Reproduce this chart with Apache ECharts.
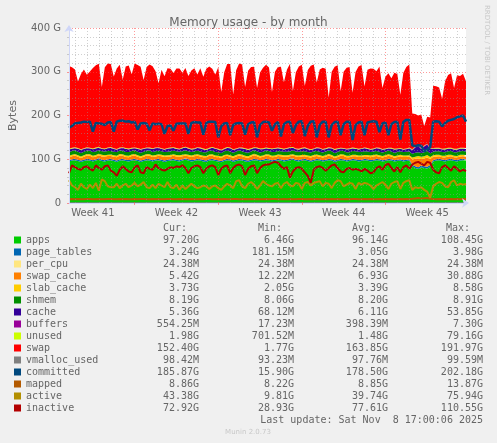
<!DOCTYPE html>
<html>
<head>
<meta charset="utf-8">
<script src="https://cdn.jsdelivr.net/npm/echarts/dist/echarts.min.js"></script>
<style>
html,body{margin:0;padding:0;background:#F0F0F0;}
#c{width:497px;height:443px;}
</style>
</head>
<body>
<div id="c"></div>
<script>
// ---- Data (GiB), one sample every 6 hours, 134 samples ----
const weekLabels = ['Week 41','Week 42','Week 43','Week 44','Week 45'];
const weekLabelAt = [8,36,64,92,120];
const weekStartAt = [22,50,78,106];

const apps = [
95,97,98,96,94,96,98,97,95,97,
99,96,95,97,98,96,94,97,98,96,
95,97,98,96,94,96,98,97,95,97,
98,96,94,96,97,98,96,95,97,99,
97,95,96,98,97,95,94,97,98,96,
95,93,96,98,97,94,96,98,97,95,
94,96,98,97,95,96,98,97,95,96,
98,97,95,96,98,99,96,95,97,98,
96,94,96,98,97,95,96,98,97,94,
96,98,97,95,96,98,97,95,96,98,
97,95,96,98,97,95,96,98,97,95,
96,97,95,96,97,84,80,78,82,80,
79,83,95,97,98,96,95,97,98,96,
95,97,98,97.2];

const page_tables = [
3.0,3.1,3.0,2.9,3.0,3.1,3.1,3.0,2.9,3.0,
3.1,3.0,3.0,3.1,3.0,2.9,3.0,3.1,3.0,3.0,
3.1,3.0,2.9,3.0,3.1,3.0,3.0,3.1,3.0,2.9,
3.0,3.1,3.0,3.0,3.1,3.0,2.9,3.0,3.1,3.0,
3.0,3.1,3.0,2.9,3.0,3.1,3.0,3.0,3.1,3.0,
2.9,3.0,3.1,3.0,3.0,3.1,3.0,2.9,3.0,3.1,
3.0,3.0,3.1,3.0,2.9,3.0,3.1,3.0,3.0,3.1,
3.0,2.9,3.0,3.1,3.0,3.0,3.1,3.0,2.9,3.0,
3.1,3.0,3.0,3.1,3.0,2.9,3.0,3.1,3.0,3.0,
3.1,3.0,2.9,3.0,3.1,3.0,3.0,3.1,3.0,2.9,
3.0,3.1,3.0,3.0,3.1,3.0,2.9,3.0,3.1,3.0,
3.0,3.1,3.0,3.1,3.2,3.6,3.9,3.8,3.7,3.9,
3.8,3.6,3.1,3.0,3.1,3.2,3.1,3.2,3.2,3.1,
3.2,3.3,3.2,3.24];

const per_cpu = [
0.024,0.024,0.024,0.024,0.024,0.024,0.024,0.024,0.024,0.024,
0.024,0.024,0.024,0.024,0.024,0.024,0.024,0.024,0.024,0.024,
0.024,0.024,0.024,0.024,0.024,0.024,0.024,0.024,0.024,0.024,
0.024,0.024,0.024,0.024,0.024,0.024,0.024,0.024,0.024,0.024,
0.024,0.024,0.024,0.024,0.024,0.024,0.024,0.024,0.024,0.024,
0.024,0.024,0.024,0.024,0.024,0.024,0.024,0.024,0.024,0.024,
0.024,0.024,0.024,0.024,0.024,0.024,0.024,0.024,0.024,0.024,
0.024,0.024,0.024,0.024,0.024,0.024,0.024,0.024,0.024,0.024,
0.024,0.024,0.024,0.024,0.024,0.024,0.024,0.024,0.024,0.024,
0.024,0.024,0.024,0.024,0.024,0.024,0.024,0.024,0.024,0.024,
0.024,0.024,0.024,0.024,0.024,0.024,0.024,0.024,0.024,0.024,
0.024,0.024,0.024,0.024,0.024,0.024,0.024,0.024,0.024,0.024,
0.024,0.024,0.024,0.024,0.024,0.024,0.024,0.024,0.024,0.024,
0.024,0.024,0.024,0.024];

const swap_cache = [
6.5,7.0,7.5,6.8,6.0,6.5,7.2,7.8,6.9,6.2,
6.8,7.5,8.0,7.1,6.4,6.9,7.6,8.2,7.0,6.3,
6.7,7.3,7.9,6.8,6.1,6.6,7.4,8.0,7.2,6.5,
6.9,7.6,8.1,7.0,6.3,6.8,7.5,7.9,6.9,6.2,
6.6,7.2,7.8,6.9,6.0,6.5,7.3,7.7,6.8,6.1,
6.5,7.1,7.6,6.7,5.9,6.4,7.2,7.8,6.9,6.2,
6.6,7.3,7.9,6.8,6.0,6.5,7.1,7.6,6.7,6.0,
6.4,7.0,7.5,6.6,5.8,6.3,7.0,7.4,6.5,5.9,
6.3,6.9,7.4,6.5,5.7,6.2,6.9,7.3,6.4,5.8,
6.2,6.8,7.3,6.4,5.6,6.1,6.8,7.2,6.3,5.7,
6.1,6.7,7.2,6.3,5.5,6.0,6.7,7.1,6.2,5.6,
6.0,6.6,7.0,6.2,5.8,12,17,20,15,18,
21,14,7.5,6.5,5.8,5.5,6.0,6.3,5.7,5.4,
5.8,6.0,5.6,5.42];

const slab_cache = [
3.3,3.4,3.5,3.3,3.2,3.4,3.5,3.4,3.3,3.3,
3.4,3.5,3.4,3.3,3.2,3.4,3.5,3.4,3.3,3.3,
3.4,3.5,3.3,3.2,3.4,3.5,3.4,3.3,3.3,3.4,
3.5,3.4,3.3,3.2,3.4,3.5,3.4,3.3,3.3,3.4,
3.5,3.3,3.2,3.4,3.5,3.4,3.3,3.3,3.4,3.5,
3.4,3.3,3.2,3.4,3.5,3.4,3.3,3.3,3.4,3.5,
3.3,3.2,3.4,3.5,3.4,3.3,3.3,3.4,3.5,3.4,
3.3,3.2,3.4,3.5,3.4,3.3,3.3,3.4,3.5,3.3,
3.2,3.4,3.5,3.4,3.3,3.3,3.4,3.5,3.4,3.3,
3.2,3.4,3.5,3.4,3.3,3.3,3.4,3.5,3.3,3.2,
3.4,3.5,3.4,3.3,3.3,3.4,3.5,3.4,3.3,3.2,
3.4,3.5,3.4,3.3,3.4,4.5,5.0,5.5,4.8,5.2,
6.0,4.5,3.6,3.5,3.4,3.5,3.6,3.7,3.6,3.5,
3.6,3.7,3.7,3.73];

const shmem = [
8.2,8.2,8.3,8.2,8.1,8.2,8.2,8.3,8.2,8.1,
8.2,8.3,8.2,8.2,8.1,8.2,8.3,8.2,8.2,8.1,
8.2,8.2,8.3,8.2,8.1,8.2,8.2,8.3,8.2,8.2,
8.1,8.2,8.3,8.2,8.2,8.1,8.2,8.2,8.3,8.2,
8.1,8.2,8.2,8.3,8.2,8.2,8.1,8.2,8.3,8.2,
8.2,8.1,8.2,8.2,8.3,8.2,8.1,8.2,8.2,8.3,
8.2,8.2,8.1,8.2,8.3,8.2,8.2,8.1,8.2,8.2,
8.3,8.2,8.1,8.2,8.2,8.3,8.2,8.2,8.1,8.2,
8.2,8.3,8.2,8.1,8.2,8.2,8.3,8.2,8.2,8.1,
8.2,8.2,8.3,8.2,8.1,8.2,8.2,8.3,8.2,8.2,
8.1,8.2,8.3,8.2,8.2,8.1,8.2,8.2,8.3,8.2,
8.2,8.1,8.2,8.3,8.2,8.6,8.9,8.8,8.7,8.9,
8.8,8.5,8.2,8.2,8.1,8.2,8.2,8.3,8.2,8.2,
8.1,8.2,8.2,8.19];

const cache = [
6.0,5.5,5.0,6.5,7.0,6.2,5.4,5.0,6.3,7.2,
6.0,5.2,5.0,6.4,7.1,6.1,5.3,4.9,6.2,7.0,
6.1,5.4,4.8,6.3,7.2,6.0,5.2,5.0,6.5,7.1,
6.2,5.3,4.9,6.4,7.0,6.1,5.5,5.1,6.3,7.2,
6.0,5.3,4.9,6.2,7.1,6.2,5.4,5.0,6.4,7.0,
6.1,5.5,5.0,6.3,7.2,6.0,5.3,4.9,6.2,7.1,
6.2,5.4,5.0,6.5,7.0,6.1,5.2,4.8,6.3,7.2,
6.0,5.5,5.1,6.4,7.1,6.2,5.3,4.9,6.2,7.0,
6.1,5.4,5.0,6.3,7.2,6.0,5.5,5.1,6.4,7.1,
6.2,5.3,4.9,6.2,7.0,6.1,5.4,5.0,6.5,7.2,
6.0,5.2,4.8,6.3,7.1,6.2,5.5,5.1,6.3,7.0,
6.1,5.4,5.0,6.2,7.0,8,12,14,9,13,
15,10,6.5,6.0,5.5,5.8,6.2,5.6,5.2,5.5,
5.8,5.6,5.4,5.36];

const buffers = [
0.4,0.4,0.3,0.4,0.5,0.4,0.3,0.4,0.4,0.5,
0.4,0.3,0.4,0.4,0.5,0.4,0.3,0.4,0.4,0.5,
0.4,0.3,0.4,0.5,0.4,0.4,0.3,0.4,0.5,0.4,
0.3,0.4,0.4,0.5,0.4,0.3,0.4,0.4,0.5,0.4,
0.4,0.3,0.4,0.5,0.4,0.4,0.3,0.4,0.4,0.5,
0.4,0.3,0.4,0.4,0.5,0.4,0.3,0.4,0.5,0.4,
0.4,0.3,0.4,0.4,0.5,0.4,0.4,0.3,0.4,0.5,
0.4,0.3,0.4,0.5,0.4,0.4,0.3,0.4,0.4,0.5,
0.4,0.3,0.4,0.4,0.5,0.4,0.3,0.4,0.5,0.4,
0.4,0.3,0.4,0.4,0.5,0.4,0.4,0.3,0.4,0.5,
0.4,0.3,0.4,0.5,0.4,0.4,0.3,0.4,0.4,0.5,
0.4,0.3,0.4,0.4,0.5,0.9,1.4,1.1,0.8,1.2,
1.0,0.7,0.4,0.4,0.5,0.4,0.4,0.5,0.5,0.6,
0.5,0.6,0.5,0.55];

const unused = [
1.5,1.4,1.6,1.5,1.3,1.5,1.6,1.4,1.5,1.7,
1.4,1.5,1.3,1.6,1.5,1.4,1.5,1.6,1.3,1.5,
1.6,1.4,1.5,1.5,1.3,1.6,1.4,1.5,1.7,1.4,
1.5,1.3,1.6,1.5,1.4,1.5,1.6,1.3,1.5,1.4,
1.6,1.5,1.4,1.3,1.5,1.6,1.4,1.5,1.5,1.3,
1.6,1.4,1.5,1.7,1.4,1.5,1.3,1.6,1.5,1.4,
1.5,1.6,1.3,1.5,1.4,1.6,1.5,1.4,1.5,1.3,
1.6,1.5,1.4,1.5,1.6,1.3,1.5,1.4,1.6,1.5,
1.4,1.5,1.3,1.6,1.5,1.4,1.5,1.6,1.3,1.5,
1.6,1.4,1.5,1.5,1.3,1.6,1.4,1.5,1.7,1.4,
1.5,1.3,1.6,1.5,1.4,1.5,1.6,1.3,1.5,1.4,
1.6,1.5,1.4,1.3,1.5,1.2,1.0,0.9,1.1,1.0,
0.8,1.1,1.6,1.5,1.7,1.6,1.8,1.7,1.9,1.8,
1.9,2.0,1.9,1.98];

const swap = [
189,184,178,152,172,180,166,174,184,188,
190,140,186,192,190,164,184,189,155,186,
190,168,192,190,188,156,184,190,187,174,
146,179,166,182,180,170,182,183,171,180,
164,179,183,166,181,164,184,186,179,168,
186,132,174,190,191,125,179,192,190,140,
179,186,184,136,174,184,189,184,129,174,
184,186,152,179,190,128,174,188,190,140,
179,191,192,148,179,186,182,114,174,188,
190,129,174,185,186,125,174,188,190,139,
179,184,182,174,186,139,164,170,159,174,
170,122,174,186,190,82,74,68,77,45,
62,70,142,141,138,114,154,166,170,139,
168,164,169,152.4];

const vmalloc_used = [
0.097,0.098,0.098,0.097,0.098,0.099,0.098,0.097,0.098,0.098,
0.097,0.098,0.099,0.098,0.097,0.098,0.098,0.097,0.098,0.099,
0.098,0.097,0.098,0.098,0.099,0.098,0.097,0.098,0.098,0.097,
0.098,0.099,0.098,0.097,0.098,0.098,0.097,0.098,0.099,0.098,
0.097,0.098,0.098,0.099,0.098,0.097,0.098,0.098,0.097,0.098,
0.099,0.098,0.097,0.098,0.098,0.097,0.098,0.099,0.098,0.097,
0.098,0.098,0.097,0.098,0.099,0.098,0.097,0.098,0.098,0.097,
0.098,0.099,0.098,0.097,0.098,0.098,0.097,0.098,0.099,0.098,
0.097,0.098,0.098,0.099,0.098,0.097,0.098,0.098,0.097,0.098,
0.099,0.098,0.097,0.098,0.098,0.097,0.098,0.099,0.098,0.097,
0.098,0.098,0.097,0.098,0.099,0.098,0.097,0.098,0.098,0.097,
0.098,0.097,0.098,0.098,0.097,0.094,0.093,0.095,0.096,0.094,
0.095,0.097,0.098,0.098,0.099,0.098,0.098,0.099,0.098,0.098,
0.098,0.099,0.098,0.0984];

const committed = [
172,176,182,183,184,186,185,186,163,183,
182,181,178,184,185,163,186,188,188,186,
187,184,186,168,182,183,181,166,182,180,
181,180,158,176,177,165,181,182,182,182,
158,183,185,184,184,156,183,186,186,185,
150,175,182,183,155,178,182,183,182,156,
180,184,185,150,178,185,186,184,165,180,
185,152,180,185,186,160,178,186,187,153,
176,186,187,150,178,186,186,150,178,185,
186,155,180,186,186,144,178,184,186,155,
184,186,187,186,162,182,184,155,180,185,
186,145,185,190,190,132,130,132,131,118,
122,128,186,187,186,175,183,188,190,192,
196,198,200,185.9];

const mapped = [
8.8,8.9,8.8,8.9,8.8,8.8,8.9,8.9,8.8,8.8,
8.9,8.8,8.8,8.9,8.9,8.8,8.8,8.9,8.8,8.9,
8.8,8.8,8.9,8.8,8.9,8.9,8.8,8.8,8.9,8.8,
8.9,8.8,8.8,8.9,8.9,8.8,8.8,8.9,8.8,8.9,
8.8,8.9,8.8,8.8,8.9,8.8,8.9,8.9,8.8,8.8,
8.9,8.8,8.9,8.8,8.8,8.9,8.9,8.8,8.8,8.9,
8.8,8.9,8.8,8.9,8.8,8.8,8.9,8.8,8.9,8.9,
8.8,8.8,8.9,8.8,8.9,8.8,8.8,8.9,8.9,8.8,
8.8,8.9,8.8,8.9,8.8,8.8,8.9,8.8,8.9,8.8,
8.9,8.8,8.8,8.9,8.8,8.9,8.9,8.8,8.8,8.9,
8.8,8.9,8.8,8.8,8.9,8.8,8.9,8.8,8.9,8.8,
8.8,8.9,8.8,8.9,8.8,9.6,10.5,11.2,10.0,10.8,
11.5,9.8,8.9,8.8,8.9,8.8,8.9,8.8,8.9,8.8,
8.9,8.8,8.9,8.86];

const active = [
52,40,36,30,44,36,32,42,34,46,
28,54,50,38,36,36,44,34,40,44,
36,40,46,38,42,48,36,34,42,34,
44,40,36,48,36,34,42,30,40,32,
38,44,38,34,36,40,38,32,38,40,
34,30,38,44,40,34,50,52,38,34,
44,48,42,32,40,50,44,40,38,44,
46,34,44,48,40,38,46,44,32,46,
48,40,46,48,50,38,46,44,34,46,
52,50,38,42,46,44,32,46,42,46,
44,40,32,40,44,48,42,32,44,48,
50,32,46,50,52,30,36,34,36,30,
26,12,38,44,48,46,38,36,48,52,
40,44,42,43.4];

const inactive = [
68,86,82,78,76,82,84,78,74,86,
80,76,84,86,74,70,62,76,84,78,
72,70,82,86,70,68,82,78,76,88,
80,76,74,78,82,80,84,82,86,80,
68,80,84,86,82,68,78,84,86,82,
64,78,84,86,68,80,86,88,84,64,
78,84,86,68,80,86,88,88,92,94,
92,84,78,82,58,72,80,82,78,70,
62,46,76,82,84,80,74,80,86,88,
80,72,70,78,80,76,78,76,72,78,
74,68,70,80,84,76,86,90,80,72,
82,70,82,86,78,88,92,94,90,86,
94,92,76,70,68,82,86,80,74,84,
78,72,76,72.9];

// ---- Legend table values ----
const names   = ['apps','page_tables','per_cpu','swap_cache','slab_cache','shmem','cache','buffers','unused','swap','vmalloc_used','committed','mapped','active','inactive'];
const curVals = ['97.20G','3.24G','24.38M','5.42G','3.73G','8.19G','5.36G','554.25M','1.98G','152.40G','98.42M','185.87G','8.86G','43.38G','72.92G'];
const minVals = ['6.46G','181.15M','24.38M','12.22M','2.05G','8.06G','68.12M','17.23M','701.52M','1.77G','93.23M','15.90G','8.22G','9.81G','28.93G'];
const avgVals = ['96.14G','3.05G','24.38M','6.93G','3.39G','8.20G','6.11G','398.39M','1.48G','163.85G','97.76M','178.50G','8.85G','39.74G','77.61G'];
const maxVals = ['108.45G','3.98G','24.38M','30.88G','8.58G','8.91G','53.85G','7.30G','79.16G','191.97G','99.59M','202.18G','13.87G','75.94G','110.55G'];
const colHeads = ['Cur:','Min:','Avg:','Max:'];
const yTicks = [0,100,200,300,400];

// ---- Build chart ----
const colors = {
  apps:'#00CC00', page_tables:'#0066B3', per_cpu:'#FFE680', swap_cache:'#FF8000',
  slab_cache:'#FFCC00', shmem:'#008F00', cache:'#330099', buffers:'#990099',
  unused:'#CCFF00', swap:'#FF0000', vmalloc_used:'#808080', committed:'#00487D',
  mapped:'#B35A00', active:'#B38F00', inactive:'#B30000'
};
const areaSeries = [['apps',apps],['page_tables',page_tables],['per_cpu',per_cpu],['swap_cache',swap_cache],
  ['slab_cache',slab_cache],['shmem',shmem],['cache',cache],['buffers',buffers],['unused',unused],['swap',swap]];
const lineSeries = [['vmalloc_used',vmalloc_used,1.5],['committed',committed,2.5],['mapped',mapped,2],['active',active,2],['inactive',inactive,2]];

const N = apps.length;
const cats = [];
for (let i = 0; i < N; i++) cats.push(String(i));

const series = [];
areaSeries.forEach(([name, data]) => {
  series.push({
    name, type:'line', stack:'mem', data, symbol:'none', showSymbol:false,
    color: colors[name], itemStyle:{color: colors[name]},
    lineStyle:{width:0, opacity:0}, areaStyle:{color: colors[name], opacity:1},
    emphasis:{disabled:true}, silent:true, z:2
  });
});
lineSeries.forEach(([name, data, w]) => {
  series.push({
    name, type:'line', data, symbol:'none', showSymbol:false,
    color: colors[name], itemStyle:{color: colors[name]},
    lineStyle:{width:w, color: colors[name]},
    emphasis:{disabled:true}, silent:true, z:3
  });
});

const FONT = 'DejaVu Sans';
const MONO = 'DejaVu Sans Mono';
const fontCol = '#666666';
const majorGrid = 'rgba(255,70,70,0.55)';
const minorGrid = 'rgba(150,150,150,0.45)';
const axisCol = '#CFD6F8';

const richBase = {fontFamily: MONO, fontSize: 10, color: fontCol, lineHeight: 12};
const option = {
  animation: false,
  backgroundColor: '#F0F0F0',
  textStyle: {fontFamily: FONT},
  title: {
    text: 'Memory usage - by month', left: 'center', top: 12,
    textStyle: {fontFamily: FONT, fontSize: 12, fontWeight: 'normal', color: fontCol}
  },
  grid: {left: 67, right: 31, top: 28, bottom: 240, show: true, backgroundColor: '#FFFFFF', borderWidth: 0, containLabel: false},
  xAxis: [
    {
      type: 'category', data: cats, boundaryGap: false, z: 10,
      axisLine: {show: true, lineStyle: {color: axisCol, width: 1}, symbol: ['none','arrow'], symbolSize: [7, 7], symbolOffset: [0, 3]},
      axisTick: {show: true, length: 2, interval: (i) => weekStartAt.includes(i), lineStyle: {color: majorGrid}},
      axisLabel: {
        show: true, interval: (i) => weekLabelAt.includes(i),
        formatter: (v, i) => { const k = weekLabelAt.indexOf(i); return k >= 0 ? weekLabels[k] : ''; },
        fontFamily: FONT, fontSize: 10, color: fontCol, margin: 5
      },
      splitLine: {show: true, interval: (i) => weekStartAt.includes(i), lineStyle: {color: majorGrid, type: [1, 2], width: 1}}
    },
    {
      type: 'category', data: cats, boundaryGap: false, position: 'bottom', z: 9,
      axisLine: {show: false}, axisTick: {show: false}, axisLabel: {show: false},
      splitLine: {show: true, interval: (i) => (i % 4 === 2) && !weekStartAt.includes(i), lineStyle: {color: minorGrid, type: [1, 2], width: 1}}
    }
  ],
  yAxis: {
    type: 'value', min: yTicks[0], max: yTicks[yTicks.length-1], interval: 100, z: 10,
    name: 'Bytes', nameLocation: 'middle', nameGap: 50, nameRotate: 90,
    nameTextStyle: {fontFamily: FONT, fontSize: 11, color: fontCol},
    axisLine: {show: true, lineStyle: {color: axisCol, width: 1}, symbol: ['none','arrow'], symbolSize: [7, 7], symbolOffset: [0, 3]},
    axisTick: {show: true, length: 2, lineStyle: {color: majorGrid}},
    minorTick: {show: true, splitNumber: 5, length: 2, lineStyle: {color: minorGrid}},
    axisLabel: {fontFamily: FONT, fontSize: 10, color: fontCol, margin: 8, formatter: (v) => v === 0 ? '0' : v + ' G'},
    splitLine: {show: true, lineStyle: {color: majorGrid, type: [1, 2], width: 1}},
    minorSplitLine: {show: true, lineStyle: {color: minorGrid, type: [1, 2], width: 1}}
  },
  legend: {
    orient: 'vertical', left: 14, top: 234, itemWidth: 7, itemHeight: 7, itemGap: 0,
    icon: 'rect', selectedMode: false, data: names, padding: 0,
    itemStyle: {borderWidth: 0},
    textStyle: {
      fontFamily: MONO, fontSize: 10, color: fontCol, lineHeight: 12,
      rich: {
        n: Object.assign({width: 101}, richBase),
        c: Object.assign({width: 72, align: 'right'}, richBase),
        m: Object.assign({width: 95, align: 'right'}, richBase),
        a: Object.assign({width: 94, align: 'right'}, richBase),
        x: Object.assign({width: 95, align: 'right'}, richBase)
      }
    },
    formatter: (name) => {
      const k = names.indexOf(name);
      return '{n|' + name + '}{c|' + curVals[k] + '}{m|' + minVals[k] + '}{a|' + avgVals[k] + '}{x|' + maxVals[k] + '}';
    }
  },
  graphic: [
    {type:'text', x:187, y:228, style:{text: colHeads[0], font:'10px "DejaVu Sans Mono"', fill: fontCol, textAlign:'right', textVerticalAlign:'middle'}},
    {type:'text', x:282, y:228, style:{text: colHeads[1], font:'10px "DejaVu Sans Mono"', fill: fontCol, textAlign:'right', textVerticalAlign:'middle'}},
    {type:'text', x:376, y:228, style:{text: colHeads[2], font:'10px "DejaVu Sans Mono"', fill: fontCol, textAlign:'right', textVerticalAlign:'middle'}},
    {type:'text', x:470, y:228, style:{text: colHeads[3], font:'10px "DejaVu Sans Mono"', fill: fontCol, textAlign:'right', textVerticalAlign:'middle'}},
    {type:'text', x:483, y:420, style:{text: 'Last update: Sat Nov  8 17:00:06 2025', font:'10px "DejaVu Sans Mono"', fill: fontCol, textAlign:'right', textVerticalAlign:'middle'}},
    {type:'text', x:248, y:432, style:{text: 'Munin 2.0.73', font:'7px "DejaVu Sans"', fill: '#C8C8C8', textAlign:'center', textVerticalAlign:'middle'}},
    {type:'text', x:487, y:5, rotation: -Math.PI/2, style:{text: 'RRDTOOL / TOBI OETIKER', font:'7px "DejaVu Sans"', fill: '#C8C8C8', textAlign:'left', textVerticalAlign:'middle'}}
  ],
  series
};

const chart = echarts.init(document.getElementById('c'), null, {renderer: 'canvas'});
chart.setOption(option);
</script>
</body>
</html>
